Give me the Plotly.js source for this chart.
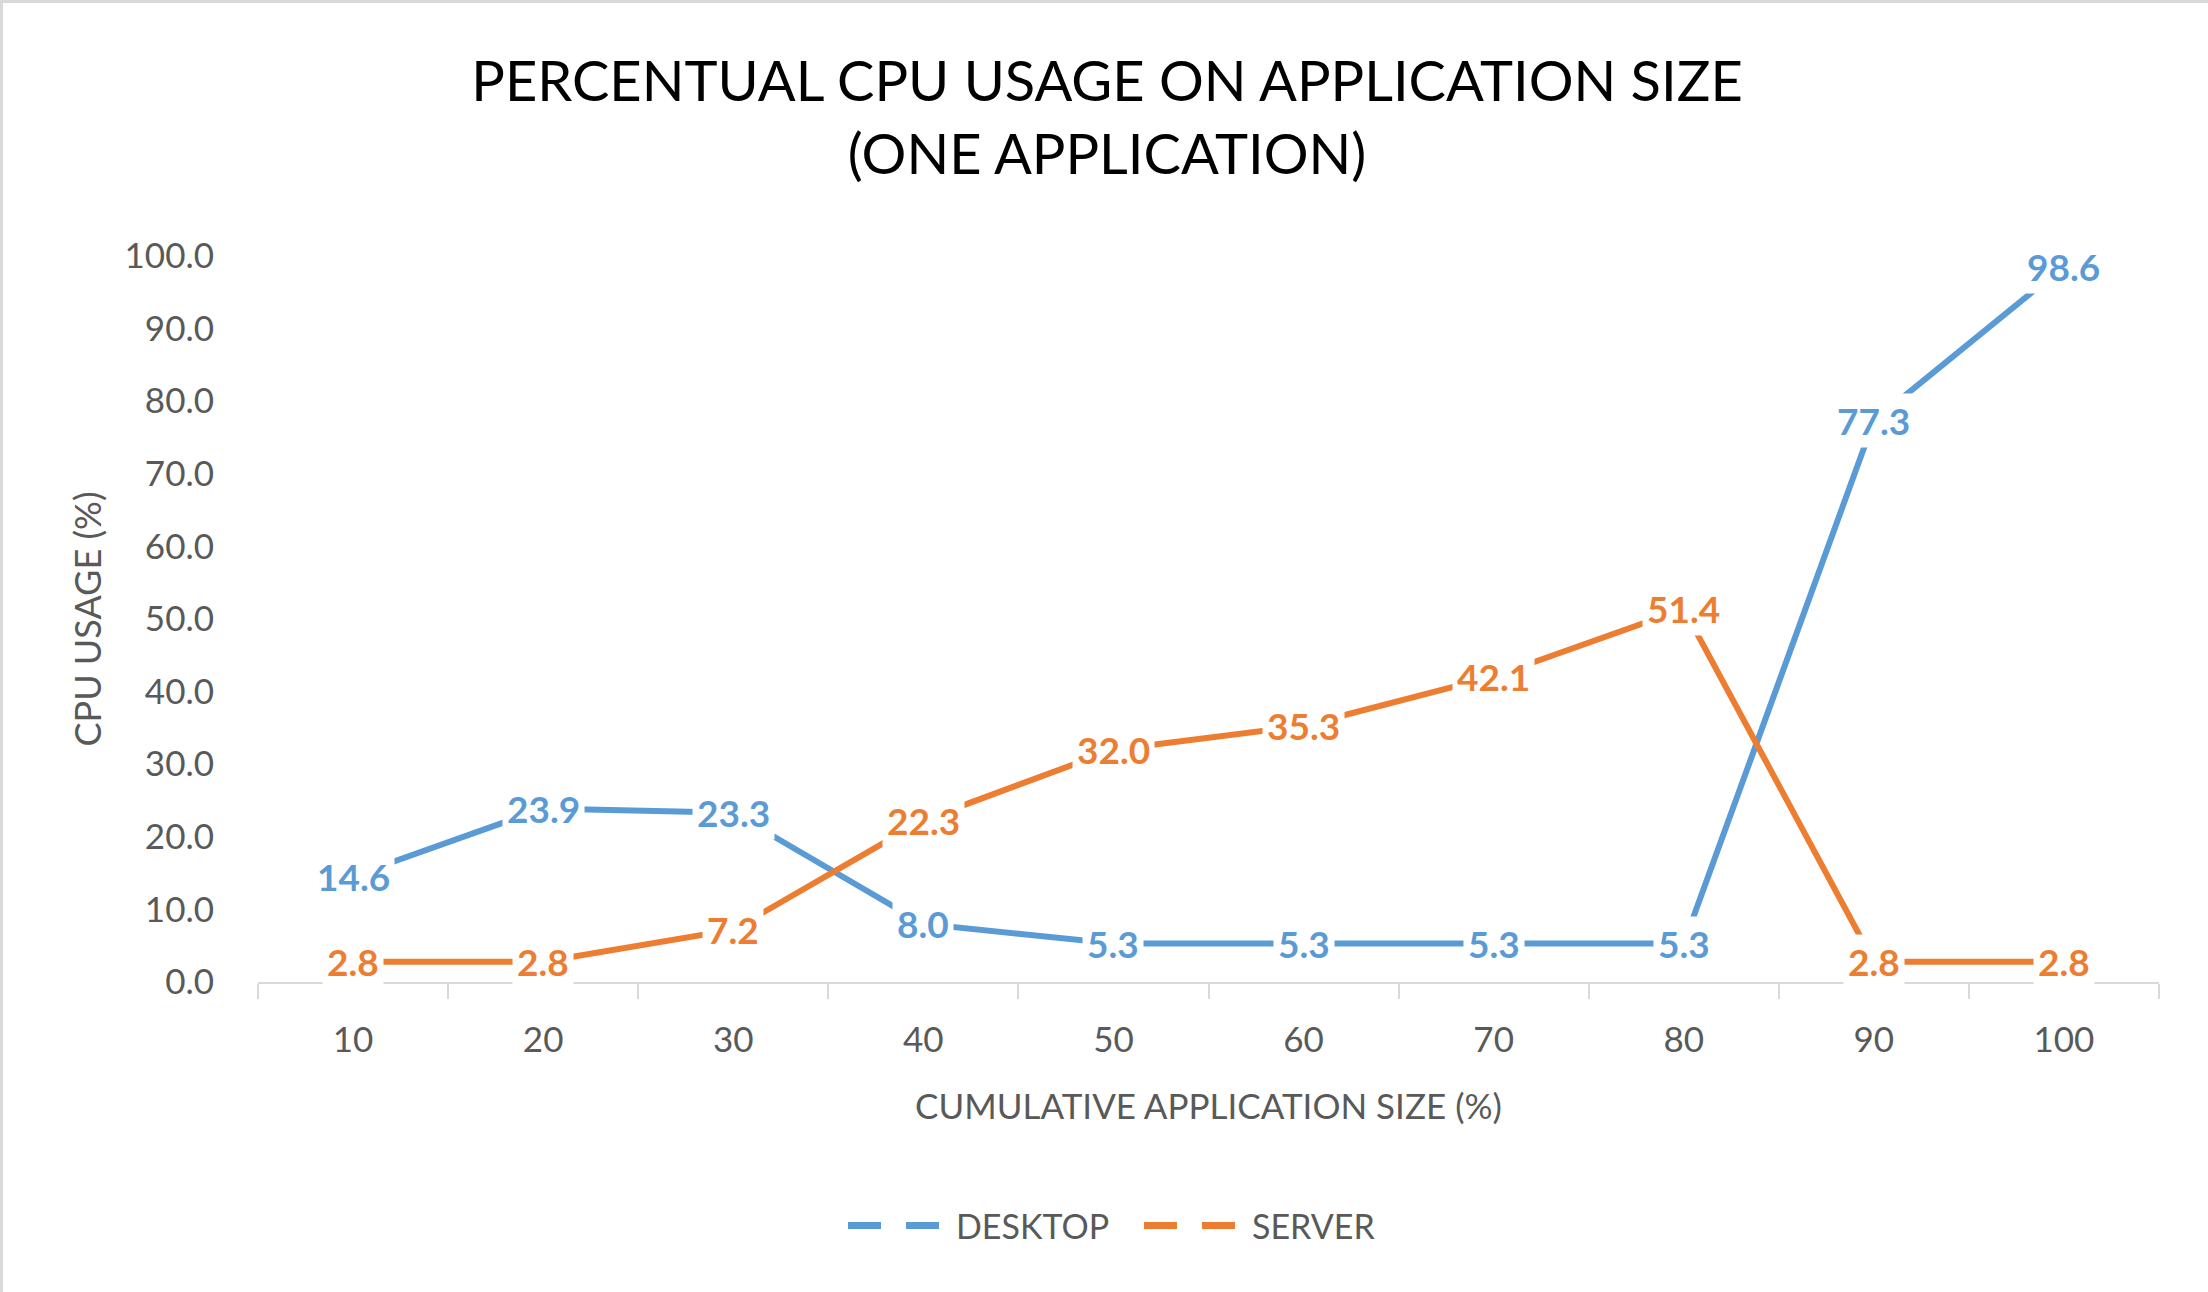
<!DOCTYPE html>
<html>
<head>
<meta charset="utf-8">
<script src="https://cdn.plot.ly/plotly-3.0.1.min.js"></script>
<style>
  html, body { margin: 0; padding: 0; background: #fff; }
  #chart { width: 2208px; height: 1292px; box-sizing: border-box; border: 3px solid #D9D9D9; }
</style>
</head>
<body>
<div id="chart"></div>
<script>
const categories = ["10", "20", "30", "40", "50", "60", "70", "80", "90", "100"];
const desktop = [14.6, 23.9, 23.3, 8.0, 5.3, 5.3, 5.3, 5.3, 77.3, 98.6];
const server = [2.8, 2.8, 7.2, 22.3, 32.0, 35.3, 42.1, 51.4, 2.8, 2.8];
const yTicks = [0, 10, 20, 30, 40, 50, 60, 70, 80, 90, 100];

const BLUE = "#5B9BD5";
const ORANGE = "#ED7D31";
const FONT = "Lato, 'Open Sans', sans-serif";

const traces = [
  { x: categories, y: desktop, type: "scatter", mode: "lines", name: "DESKTOP",
    line: { color: BLUE, width: 6 }, showlegend: false, hoverinfo: "skip" },
  { x: categories, y: server, type: "scatter", mode: "lines", name: "SERVER",
    line: { color: ORANGE, width: 6 }, showlegend: false, hoverinfo: "skip" },
  { x: [null], y: [null], type: "scatter", mode: "lines", name: "DESKTOP",
    line: { color: BLUE, width: 7, dash: "33px,25px" } },
  { x: [null], y: [null], type: "scatter", mode: "lines", name: "SERVER",
    line: { color: ORANGE, width: 7, dash: "33px,25px" } }
];

const annotations = [];
function addLabels(vals, color) {
  vals.forEach((v, i) => {
    annotations.push({
      x: i, y: v, xref: "x", yref: "y", text: v.toFixed(1), showarrow: false,
      font: { family: FONT, size: 37, color: color, weight: "bold" },
      bgcolor: "#ffffff", borderpad: 4, xanchor: "center", yanchor: "middle"
    });
  });
}
addLabels(desktop, BLUE);
addLabels(server, ORANGE);

const layout = {
  width: 2208, height: 1292,
  paper_bgcolor: "#ffffff", plot_bgcolor: "#ffffff",
  margin: { l: 255, r: 52, t: 253, b: 313, autoexpand: false },
  font: { family: FONT, color: "#595959" },
  title: {
    text: "PERCENTUAL CPU USAGE ON APPLICATION SIZE<br>(ONE APPLICATION)",
    font: { family: FONT, size: 56, color: "#000000" },
    x: 0.5, xref: "container", xanchor: "center",
    y: 1 - 98 / 1292, yref: "container", yanchor: "middle"
  },
  xaxis: {
    type: "category", categoryorder: "array", categoryarray: categories,
    range: [-0.5, 9.5],
    tickson: "boundaries", ticks: "outside", ticklen: 15, tickwidth: 2, tickcolor: "#D9D9D9",
    showline: true, linecolor: "#D9D9D9", linewidth: 2,
    showgrid: false, zeroline: false,
    tickfont: { family: FONT, size: 35, color: "#595959" },
    ticklabelstandoff: 26,
    title: { text: "CUMULATIVE APPLICATION SIZE (%)", font: { family: FONT, size: 35, color: "#595959" }, standoff: 36 },
    automargin: false, fixedrange: true
  },
  yaxis: {
    range: [0, 100], tickvals: yTicks, ticktext: yTicks.map(v => v.toFixed(1)),
    showgrid: false, zeroline: false, showline: false, ticks: "",
    tickfont: { family: FONT, size: 35, color: "#595959" },
    ticklabelstandoff: 43,
    title: { text: "CPU USAGE (%)", font: { family: FONT, size: 36, color: "#595959" }, standoff: 11 },
    automargin: false, fixedrange: true
  },
  showlegend: true,
  legend: {
    orientation: "h", x: (1136 - 255) / 1901, xanchor: "center",
    y: (979 - 1223) / 726, yanchor: "middle",
    font: { family: FONT, size: 34, color: "#595959" },
    itemwidth: 103, entrywidth: 178, entrywidthmode: "pixels",
    bgcolor: "rgba(0,0,0,0)"
  },
  annotations: annotations
};

Plotly.newPlot("chart", traces, layout, { displayModeBar: false, staticPlot: true });
</script>
</body>
</html>
